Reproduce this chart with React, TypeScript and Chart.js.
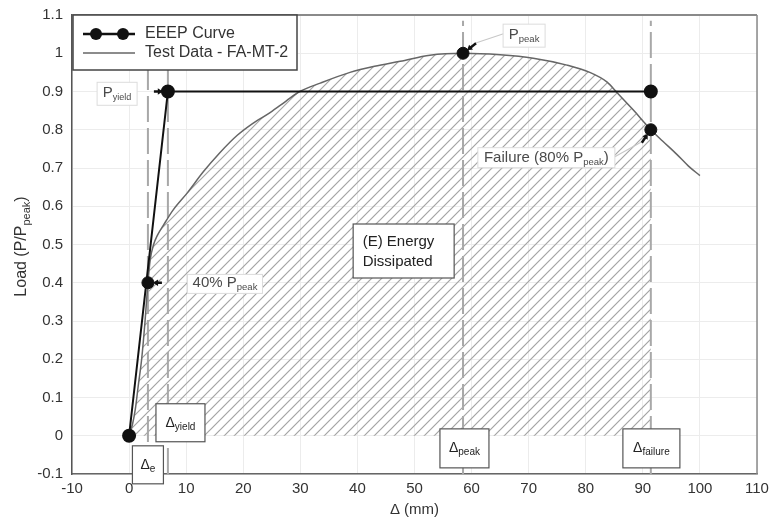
import React, { useEffect, useRef } from 'react';
import { Chart, registerables } from 'chart.js';
Chart.register(...registerables);

// ---- Data ----
const xTicks = [-10, 0, 10, 20, 30, 40, 50, 60, 70, 80, 90, 100, 110];
const yTicks = [-0.1, 0, 0.1, 0.2, 0.3, 0.4, 0.5, 0.6, 0.7, 0.8, 0.9, 1, 1.1];
const yTickLabels = ['-0.1', '0', '0.1', '0.2', '0.3', '0.4', '0.5', '0.6', '0.7', '0.8', '0.9', '1', '1.1'];

const testX = [0, 0.6, 1.1, 1.6, 2.2, 2.8, 3.3, 3.7, 4.3, 5.0, 6.0, 7.7, 10.2, 13.0, 15.9, 18.9, 21.5, 24.7, 27.5, 29.9, 33.5, 38.7, 43, 47.5, 52.7, 58.5, 65, 70.8, 76.7, 80.7, 83.7, 85.5, 88.3, 91.4, 93.5, 96, 98, 100];
const testY = [0, 0.03, 0.07, 0.13, 0.2, 0.3, 0.4, 0.46, 0.5, 0.525, 0.55, 0.59, 0.635, 0.69, 0.74, 0.785, 0.815, 0.845, 0.875, 0.9, 0.922, 0.95, 0.966, 0.979, 0.995, 1.0, 0.996, 0.987, 0.969, 0.95, 0.925, 0.897, 0.852, 0.8, 0.77, 0.735, 0.705, 0.68];

const eeepX = [0, 6.8, 91.4];
const eeepY = [0, 0.9, 0.9];

const deltaE = 3.3;
const deltaYield = 6.8;
const deltaPeak = 58.5;
const deltaFailure = 91.4;
const pYield = 0.9;
const p40 = 0.4;
const pPeak = 1.0;
const pFailure = 0.8;
const vLineBottom = -0.1;
const vLineTop = 1.085;

const FONT = '"Liberation Sans", Arial, Helvetica, sans-serif';
const mf = (s: number) => `${s}px ${FONT}`;

type Part = { t: string; sub?: boolean };

function richWidth(ctx: CanvasRenderingContext2D, parts: Part[], size: number, subSize: number) {
  let w = 0;
  for (const p of parts) {
    ctx.font = mf(p.sub ? subSize : size);
    w += ctx.measureText(p.t).width;
  }
  return w;
}

function drawRich(ctx: CanvasRenderingContext2D, parts: Part[], cx: number, cy: number, size: number, subSize: number, color: string, align: 'center' | 'left' = 'center') {
  const w = richWidth(ctx, parts, size, subSize);
  let x = align === 'center' ? cx - w / 2 : cx;
  ctx.fillStyle = color;
  ctx.textBaseline = 'middle';
  ctx.textAlign = 'left';
  for (const p of parts) {
    ctx.font = mf(p.sub ? subSize : size);
    ctx.fillText(p.t, x, p.sub ? cy + size * 0.3 : cy);
    x += ctx.measureText(p.t).width;
  }
}

function drawArrow(ctx: CanvasRenderingContext2D, x1: number, y1: number, x2: number, y2: number) {
  const ang = Math.atan2(y2 - y1, x2 - x1);
  ctx.save();
  ctx.strokeStyle = '#111';
  ctx.fillStyle = '#111';
  ctx.lineWidth = 2.5;
  ctx.beginPath();
  ctx.moveTo(x1, y1);
  ctx.lineTo(x2 - Math.cos(ang) * 3, y2 - Math.sin(ang) * 3);
  ctx.stroke();
  const h = 6;
  ctx.beginPath();
  ctx.moveTo(x2, y2);
  ctx.lineTo(x2 - h * Math.cos(ang - 0.55), y2 - h * Math.sin(ang - 0.55));
  ctx.lineTo(x2 - h * Math.cos(ang + 0.55), y2 - h * Math.sin(ang + 0.55));
  ctx.closePath();
  ctx.fill();
  ctx.restore();
}

function leader(ctx: CanvasRenderingContext2D, x1: number, y1: number, x2: number, y2: number) {
  ctx.save();
  ctx.strokeStyle = '#c8c8c8';
  ctx.lineWidth = 1.2;
  ctx.beginPath();
  ctx.moveTo(x1, y1);
  ctx.lineTo(x2, y2);
  ctx.stroke();
  ctx.restore();
}

function box(ctx: CanvasRenderingContext2D, cx: number, cy: number, w: number, h: number, border: string, lw: number) {
  ctx.save();
  ctx.fillStyle = '#fff';
  ctx.fillRect(cx - w / 2, cy - h / 2, w, h);
  ctx.strokeStyle = border;
  ctx.lineWidth = lw;
  ctx.strokeRect(cx - w / 2, cy - h / 2, w, h);
  ctx.restore();
}

const annotPlugin = {
  id: 'annot',
  beforeDatasetsDraw(chart: any) {
    const { ctx, chartArea: a } = chart;
    ctx.save();
    ctx.strokeStyle = '#8a8a8a';
    ctx.lineWidth = 2;
    ctx.beginPath();
    ctx.moveTo(a.left, a.top);
    ctx.lineTo(a.right, a.top);
    ctx.stroke();
    ctx.lineWidth = 1.5;
    ctx.beginPath();
    ctx.moveTo(a.right, a.top);
    ctx.lineTo(a.right, a.bottom);
    ctx.stroke();
    ctx.restore();
  },
  afterDatasetsDraw(chart: any) {
    const { ctx } = chart;
    const xs = chart.scales.x;
    const ys = chart.scales.y;
    const X = (v: number) => xs.getPixelForValue(v);
    const Y = (v: number) => ys.getPixelForValue(v);

    // arrows + leaders
    drawArrow(ctx, X(deltaYield) - 14, Y(pYield), X(deltaYield) - 5, Y(pYield));
    drawArrow(ctx, X(deltaE) + 14, Y(p40), X(deltaE) + 5, Y(p40));
    leader(ctx, X(deltaPeak) + 12, Y(pPeak) - 10, X(deltaPeak) + 42, Y(pPeak) - 20);
    drawArrow(ctx, X(deltaPeak) + 13, Y(pPeak) - 10, X(deltaPeak) + 4, Y(pPeak) - 3);
    leader(ctx, X(deltaFailure) - 9, Y(pFailure) + 12, X(deltaFailure) - 36, Y(pFailure) + 27);
    drawArrow(ctx, X(deltaFailure) - 9, Y(pFailure) + 13, X(deltaFailure) - 3, Y(pFailure) + 4);

    // light labels
    const lightB = '#dcdcdc';
    const lightT = '#4a4a4a';
    let cx = X(-2.1), cy = Y(0.894);
    box(ctx, cx, cy, 40, 23, lightB, 1);
    drawRich(ctx, [{ t: 'P' }, { t: 'yield', sub: true }], cx, cy - 1, 15, 9, lightT);

    cx = X(16.8); cy = Y(0.397);
    box(ctx, cx, cy, 75, 19, lightB, 1);
    drawRich(ctx, [{ t: '40% P' }, { t: 'peak', sub: true }], cx, cy - 1, 15, 9.5, lightT);

    cx = X(69.2); cy = Y(1.046);
    box(ctx, cx, cy, 42, 23, lightB, 1);
    drawRich(ctx, [{ t: 'P' }, { t: 'peak', sub: true }], cx, cy - 1, 15, 9.5, lightT);

    cx = X(73.1); cy = Y(0.727);
    box(ctx, cx, cy, 137, 20, lightB, 1);
    drawRich(ctx, [{ t: 'Failure (80% P' }, { t: 'peak', sub: true }, { t: ')' }], cx, cy, 15, 9.5, lightT);

    // Energy box
    cx = X(48.1); cy = Y(0.483);
    box(ctx, cx, cy, 101, 54, '#555', 1.2);
    ctx.fillStyle = '#222';
    ctx.font = mf(15);
    ctx.textAlign = 'left';
    ctx.textBaseline = 'middle';
    ctx.fillText('(E) Energy', cx - 41, cy - 9);
    ctx.fillText('Dissipated', cx - 41, cy + 11);

    // Delta boxes
    const dB = '#555';
    const dT = '#222';
    cx = X(deltaE); cy = Y(-0.076);
    box(ctx, cx, cy, 31, 38, dB, 1.2);
    drawRich(ctx, [{ t: 'Δ' }, { t: 'e', sub: true }], cx, cy, 14, 10, dT);

    cx = X(9.0); cy = Y(0.034);
    box(ctx, cx, cy, 49, 38, dB, 1.2);
    drawRich(ctx, [{ t: 'Δ' }, { t: 'yield', sub: true }], cx, cy, 14, 10, dT);

    cx = X(58.75); cy = Y(-0.033);
    box(ctx, cx, cy, 49, 39, dB, 1.2);
    drawRich(ctx, [{ t: 'Δ' }, { t: 'peak', sub: true }], cx, cy, 14, 10, dT);

    cx = X(91.5); cy = Y(-0.033);
    box(ctx, cx, cy, 57, 39, dB, 1.2);
    drawRich(ctx, [{ t: 'Δ' }, { t: 'failure', sub: true }], cx, cy, 14, 10, dT);
  },
  afterDraw(chart: any) {
    const { ctx, chartArea: a } = chart;
    // Legend
    const lx = a.left + 1, ly = a.top, lw = 224, lh = 55;
    ctx.save();
    ctx.fillStyle = '#fff';
    ctx.fillRect(lx, ly, lw, lh);
    ctx.strokeStyle = '#444';
    ctx.lineWidth = 1.5;
    ctx.strokeRect(lx, ly, lw, lh);
    // entry 1
    ctx.strokeStyle = '#111';
    ctx.lineWidth = 2.5;
    ctx.beginPath();
    ctx.moveTo(lx + 10, ly + 19);
    ctx.lineTo(lx + 62, ly + 19);
    ctx.stroke();
    ctx.fillStyle = '#111';
    for (const mx of [lx + 23, lx + 50]) {
      ctx.beginPath();
      ctx.arc(mx, ly + 19, 6, 0, Math.PI * 2);
      ctx.fill();
    }
    ctx.strokeStyle = '#666';
    ctx.lineWidth = 1.5;
    ctx.beginPath();
    ctx.moveTo(lx + 10, ly + 38);
    ctx.lineTo(lx + 62, ly + 38);
    ctx.stroke();
    ctx.fillStyle = '#333';
    ctx.font = mf(16);
    ctx.textAlign = 'left';
    ctx.textBaseline = 'middle';
    ctx.fillText('EEEP Curve', lx + 72, ly + 19);
    ctx.fillText('Test Data - FA-MT-2', lx + 72, ly + 38);
    ctx.restore();

    // axis titles
    drawRich(ctx, [{ t: 'Δ (mm)' }], (a.left + a.right) / 2, 510, 15, 10, '#333');
    ctx.save();
    ctx.translate(22, (a.top + a.bottom) / 2 + 2);
    ctx.rotate(-Math.PI / 2);
    drawRich(ctx, [{ t: 'Load (P/P' }, { t: 'peak', sub: true }, { t: ')' }], 0, 0, 16, 11, '#333');
    ctx.restore();
  },
};

export default function App() {
  const ref = useRef<HTMLCanvasElement | null>(null);
  useEffect(() => {
    const canvas = ref.current;
    if (!canvas) return;
    const ctx = canvas.getContext('2d')!;
    const S = 10;
    const pc = document.createElement('canvas');
    pc.width = S;
    pc.height = S;
    const p = pc.getContext('2d')!;
    p.strokeStyle = '#a4a4a4';
    p.lineWidth = 1.2;
    p.beginPath();
    p.moveTo(0, S); p.lineTo(S, 0);
    p.moveTo(-2, 2); p.lineTo(2, -2);
    p.moveTo(S - 2, S + 2); p.lineTo(S + 2, S - 2);
    p.stroke();
    const pattern = ctx.createPattern(pc, 'repeat');

    const testPts = testX.map((x, i) => ({ x, y: testY[i] }));
    const hatchPts = testPts.filter((pt) => pt.x <= deltaFailure);
    const eeepPts = eeepX.map((x, i) => ({ x, y: eeepY[i] }));
    const vline = (d: number) => ({
      data: [{ x: d, y: vLineBottom }, { x: d, y: vLineTop }],
      borderColor: '#a8a8a8',
      borderWidth: 2,
      borderDash: [26, 6],
      pointRadius: 0,
      fill: false,
      order: 8,
    });

    const chart = new Chart(canvas, {
      type: 'line',
      data: {
        datasets: [
          { data: hatchPts, borderWidth: 0, borderColor: 'rgba(0,0,0,0)', pointRadius: 0, fill: 'origin', backgroundColor: pattern as any, order: 10, cubicInterpolationMode: 'monotone' } as any,
          vline(deltaE),
          vline(deltaYield),
          vline(deltaPeak),
          vline(deltaFailure),
          { data: testPts, borderColor: '#666', borderWidth: 1.5, pointRadius: 0, fill: false, order: 5, cubicInterpolationMode: 'monotone' } as any,
          { data: eeepPts, borderColor: '#111', borderWidth: 2, pointRadius: 6, pointBackgroundColor: '#111', pointBorderColor: '#111', fill: false, order: 2 },
          { data: [{ x: deltaE, y: p40 }, { x: deltaPeak, y: pPeak }, { x: deltaFailure, y: pFailure }], showLine: false, pointRadius: 6, pointBackgroundColor: '#111', pointBorderColor: '#111', order: 1 } as any,
        ],
      },
      options: {
        animation: false,
        responsive: true,
        maintainAspectRatio: false,
        layout: { padding: { top: 15, right: 14, left: 0, bottom: 0 } },
        plugins: { legend: { display: false }, tooltip: { enabled: false } },
        scales: {
          x: {
            type: 'linear',
            min: -10,
            max: 110,
            afterBuildTicks: (s: any) => { s.ticks = xTicks.map((v) => ({ value: v })); },
            afterFit: (s: any) => { s.height = 51; s.paddingLeft = 0; s.paddingRight = 0; },
            ticks: { font: { family: FONT, size: 15 }, color: '#333', padding: 6, autoSkip: false, maxRotation: 0 },
            grid: { color: '#ececec', drawTicks: false },
            border: { color: '#666', width: 1.5 },
          },
          y: {
            type: 'linear',
            min: -0.1,
            max: 1.1,
            afterBuildTicks: (s: any) => { s.ticks = yTicks.map((v) => ({ value: v })); },
            afterFit: (s: any) => { s.width = 72; s.paddingTop = 0; s.paddingBottom = 0; },
            ticks: {
              font: { family: FONT, size: 15 },
              color: '#333',
              padding: 9,
              autoSkip: false,
              callback: (_v: any, i: number) => yTickLabels[i],
            },
            grid: { color: '#ececec', drawTicks: false },
            border: { color: '#555', width: 1.5 },
          },
        },
      } as any,
      plugins: [annotPlugin],
    });
    return () => chart.destroy();
  }, []);

  return (
    <div style={{ position: 'fixed', left: 0, top: 0, width: 771, height: 525, background: '#fff' }}>
      <canvas ref={ref} />
    </div>
  );
}
